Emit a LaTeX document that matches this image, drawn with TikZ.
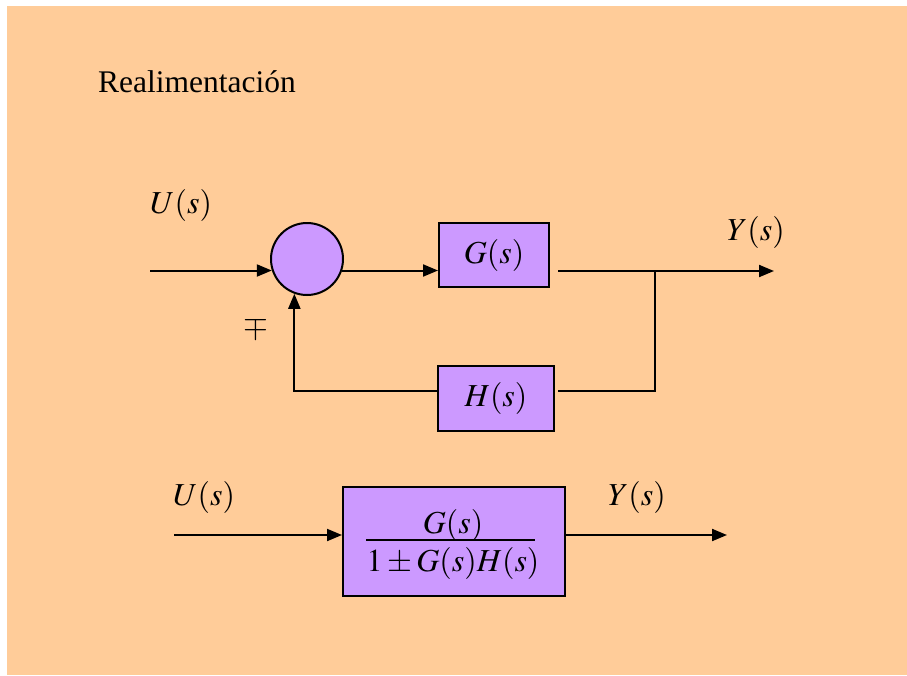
\documentclass[tikz,border=0pt]{standalone}
\usepackage{mathptmx}
\usepackage[no-math]{fontspec}
\setmainfont{Liberation Serif}
\usetikzlibrary{arrows.meta}
\definecolor{peach}{HTML}{FFCC99}
\definecolor{lilac}{HTML}{CC99FF}
\tikzset{
  wire/.style={line width=2pt, draw=black},
  arr/.style={wire, -{Triangle[length=15pt,width=12pt]}},
  blockbox/.style={draw=black, line width=2pt, fill=lilac, inner sep=0pt},
  lbl/.style={font=\fontsize{32}{38}\selectfont, inner sep=0pt},
}
\begin{document}
\begin{tikzpicture}[x=1pt,y=-1pt]
  % page and background
  \useasboundingbox (0,0) rectangle (907,675);
  \fill[white] (0,0) rectangle (907,675);
  \fill[peach] (7,6) rectangle (907,675);

  % title
  \node[font=\fontsize{31.5}{38}\selectfont, inner sep=0pt, anchor=base west] (title) at (98,92) {Realimentación};

  % closed loop
  \node[circle, blockbox, minimum size=72pt] (sum) at (307,259) {};
  \node[blockbox, minimum width=110pt, minimum height=64pt] (G) at (494,255) {};
  \node[lbl] (Gt) at (G.center) {$G(s)$};
  \node[blockbox, minimum width=116pt, minimum height=65pt] (H) at (496,398.5) {};
  \node[lbl] (Ht) at (H.center) {$H(s)$};

  \coordinate (uin) at (150,270.5);
  \coordinate (gout) at (558,271);
  \coordinate (yend) at (774,271);
  \coordinate (branch) at (655,271);
  \coordinate (hin) at (558,391);

  \node[lbl, anchor=base west] (Ulab) at (150,213) {$U(s)$};
  \node[lbl, anchor=base west] (Ylab) at (727,240) {$Y(s)$};
  \node[lbl] (sign) at (256,327) {$\mp$};

  \draw[arr] (uin) -- (uin -| sum.198);
  \draw[arr] (uin -| sum.-18) -- (uin -| G.west);
  \draw[arr] (gout) -- (yend);
  \draw[wire] (branch) |- (hin);
  \draw[arr] (hin -| H.west) -| (sum.250.5);

  % equivalent block
  \node[blockbox, minimum width=222pt, minimum height=109pt] (T) at (454,541.5) {};
  \node[lbl, anchor=base] (num) at (453,533) {$G(s)$};
  \node[lbl, anchor=base] (den) at (453,571) {$1\pm G(s)H(s)$};
  \draw[line width=1.2pt] (den.west |- T.center) ++(0,-1.5) -- ++(169,0);

  \coordinate (uin2) at (174,535);
  \coordinate (yend2) at (727,535);
  \node[lbl, anchor=base west] (Ulab2) at (173,505) {$U(s)$};
  \node[lbl, anchor=base west] (Ylab2) at (608,505) {$Y(s)$};

  \draw[arr] (uin2) -- (uin2 -| T.west);
  \draw[arr] (T.east |- yend2) -- (yend2);
\end{tikzpicture}
\end{document}
